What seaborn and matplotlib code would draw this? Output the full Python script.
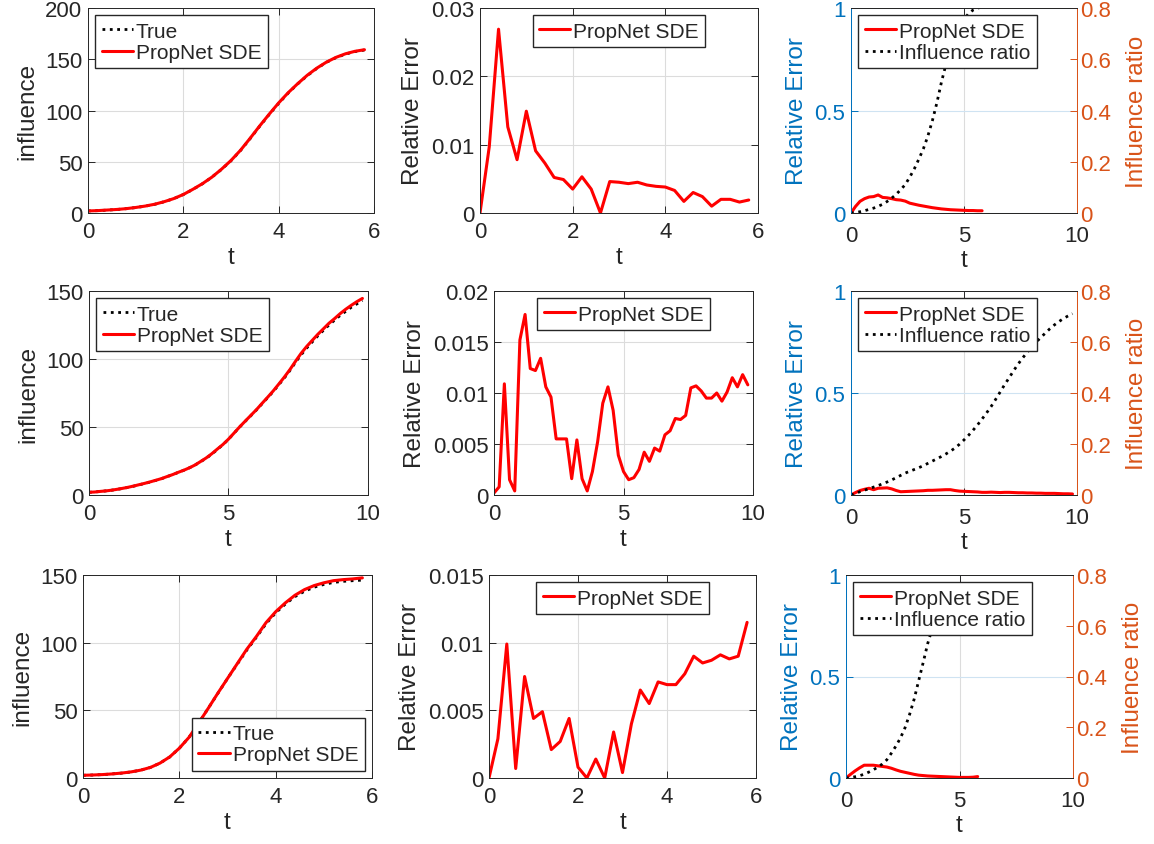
import matplotlib
matplotlib.use("Agg")
import matplotlib.pyplot as plt
from matplotlib.ticker import FuncFormatter
import seaborn as sns

# time grids
t6 = [0.0, 0.2, 0.4, 0.6, 0.8, 1.0, 1.2, 1.4, 1.6, 1.8, 2.0, 2.2, 2.4, 2.6, 2.8,
      3.0, 3.2, 3.4, 3.6, 3.8, 4.0, 4.2, 4.4, 4.6, 4.8, 5.0, 5.2, 5.4, 5.6, 5.8]
t10 = [0.0, 0.2, 0.4, 0.6, 0.8, 1.0, 1.2, 1.4, 1.6, 1.8, 2.0, 2.2, 2.4, 2.6, 2.8,
       3.0, 3.2, 3.4, 3.6, 3.8, 4.0, 4.2, 4.4, 4.6, 4.8, 5.0, 5.2, 5.4, 5.6, 5.8,
       6.0, 6.2, 6.4, 6.6, 6.8, 7.0, 7.2, 7.4, 7.6, 7.8, 8.0, 8.2, 8.4, 8.6, 8.8,
       9.0, 9.2, 9.4, 9.6, 9.8]

# row 1
infl_true_1 = [2.0, 2.3, 2.8, 3.4, 4.2, 5.3, 6.7, 8.5, 11.0, 14.0, 18.0, 23.0, 28.5, 35.0, 42.5,
               51.0, 61.0, 72.5, 84.5, 96.0, 107.0, 117.0, 126.0, 134.0, 141.0, 147.0, 151.5, 155.0, 157.5, 159.0]
infl_pred_1 = [2.0, 2.32, 2.88, 3.44, 4.23, 5.38, 6.76, 8.56, 11.06, 14.07, 18.06, 23.12, 28.6, 35.0, 42.7,
               51.23, 61.26, 72.83, 84.85, 96.37, 107.41, 117.39, 126.21, 134.4, 141.34, 147.15, 151.8, 155.31, 157.75, 159.3]
err_1 = [0.0, 0.0097, 0.0269, 0.0126, 0.0078, 0.0149, 0.0091, 0.0073, 0.0052, 0.0049, 0.0035, 0.0053, 0.0035, 0.0, 0.0046,
         0.0045, 0.0043, 0.0045, 0.0041, 0.0039, 0.0038, 0.0033, 0.0017, 0.003, 0.0024, 0.001, 0.002, 0.002, 0.0016, 0.0019]
ratio_err_1 = [0.0, 0.032, 0.057, 0.070, 0.078, 0.080, 0.088, 0.076, 0.074, 0.070, 0.065, 0.063, 0.058, 0.048, 0.043,
               0.038, 0.034, 0.030, 0.026, 0.023, 0.020, 0.018, 0.016, 0.015, 0.014, 0.013, 0.012, 0.012, 0.011, 0.011]
ratio_1 = [0.0, 0.002, 0.005, 0.009, 0.014, 0.019, 0.026, 0.034, 0.045, 0.058, 0.073, 0.091, 0.111, 0.140, 0.172,
           0.210, 0.250, 0.300, 0.360, 0.430, 0.510, 0.580, 0.635, 0.680, 0.720, 0.755, 0.778, 0.792, 0.799, 0.805]

# row 2
infl_true_2 = [2.0, 2.2, 2.6, 3.0, 3.5, 4.1, 4.8, 5.6, 6.5, 7.5, 8.5, 9.6, 10.8, 12.0, 13.5,
               15.0, 16.6, 18.2, 20.0, 22.0, 24.5, 27.0, 30.0, 33.5, 37.0, 41.0, 45.5, 50.0, 54.2, 58.3,
               62.5, 67.0, 71.5, 76.0, 81.0, 86.0, 91.5, 97.5, 103.0, 108.0, 112.5, 117.0, 121.0, 125.0, 128.5,
               132.0, 135.0, 138.0, 140.5, 143.0]
infl_pred_2 = [2.0, 2.2, 2.63, 3.0, 3.5, 4.16, 4.88, 5.67, 6.58, 7.6, 8.59, 9.69, 10.86, 12.07, 13.57,
               15.02, 16.69, 18.23, 20.01, 22.05, 24.63, 27.24, 30.32, 33.78, 37.14, 41.09, 45.57, 50.09, 54.34, 58.54,
               62.71, 67.31, 71.81, 76.45, 81.51, 86.65, 92.18, 98.26, 104.08, 109.16, 113.65, 118.11, 122.15, 126.25, 129.68,
               133.33, 136.55, 139.46, 142.16, 144.54]
err_2 = [0.0002, 0.0008, 0.0109, 0.0015, 0.0004, 0.0152, 0.0177, 0.0124, 0.0122, 0.0134, 0.0106, 0.0096, 0.0055, 0.0055, 0.0055,
         0.0016, 0.0054, 0.0016, 0.0004, 0.0023, 0.0052, 0.009, 0.0106, 0.0083, 0.0039, 0.0023, 0.0015, 0.0017, 0.0025, 0.0042,
         0.0033, 0.0046, 0.0043, 0.0059, 0.0063, 0.0075, 0.0074, 0.0078, 0.0105, 0.0107, 0.0102, 0.0095, 0.0095, 0.01, 0.0092,
         0.0101, 0.0115, 0.0106, 0.0118, 0.0108]
ratio_err_2 = [0.0, 0.012, 0.022, 0.028, 0.033, 0.026, 0.033, 0.034, 0.035, 0.030, 0.022, 0.016, 0.017, 0.018, 0.019,
               0.020, 0.021, 0.023, 0.023, 0.024, 0.025, 0.026, 0.026, 0.022, 0.019, 0.018, 0.017, 0.016, 0.015, 0.013,
               0.013, 0.014, 0.013, 0.012, 0.013, 0.013, 0.012, 0.011, 0.011, 0.010, 0.010, 0.009, 0.009, 0.008, 0.008,
               0.008, 0.007, 0.006, 0.006, 0.005]
ratio_2 = [0.0, 0.006, 0.013, 0.019, 0.025, 0.031, 0.037, 0.044, 0.051, 0.059, 0.068, 0.077, 0.086, 0.093, 0.100,
           0.107, 0.115, 0.124, 0.133, 0.142, 0.151, 0.161, 0.172, 0.184, 0.199, 0.216, 0.234, 0.254, 0.275, 0.298,
           0.322, 0.347, 0.375, 0.404, 0.433, 0.460, 0.488, 0.514, 0.538, 0.560, 0.580, 0.600, 0.618, 0.635, 0.652,
           0.667, 0.680, 0.692, 0.702, 0.711]

# row 3
infl_true_3 = [2.0, 2.2, 2.5, 3.0, 3.6, 4.5, 5.8, 7.8, 11.0, 15.5, 22.0, 30.0, 40.5, 51.5, 62.5,
               73.5, 84.0, 94.5, 104.0, 114.0, 122.0, 128.5, 134.0, 138.0, 141.0, 143.0, 144.5, 145.3, 145.8, 146.2]
infl_pred_3 = [2.0, 2.21, 2.52, 3.0, 3.63, 4.52, 5.83, 7.82, 11.03, 15.57, 22.02, 30.0, 40.56, 51.5, 62.71,
               73.53, 84.34, 95.11, 104.57, 114.81, 122.84, 129.39, 135.03, 139.24, 142.2, 144.24, 145.81, 146.58, 147.11, 147.88]
err_3 = [0.0, 0.0029, 0.0099, 0.0007, 0.0075, 0.0044, 0.0049, 0.0021, 0.0027, 0.0044, 0.0008, 0.0, 0.0014, 0.0, 0.0034,
         0.0004, 0.004, 0.0065, 0.0055, 0.0071, 0.0069, 0.0069, 0.0077, 0.009, 0.0085, 0.0087, 0.0091, 0.0088, 0.009, 0.0115]
ratio_err_3 = [0.0, 0.018, 0.035, 0.050, 0.063, 0.063, 0.063, 0.060, 0.057, 0.054, 0.048, 0.040, 0.033, 0.028, 0.023,
               0.018, 0.014, 0.012, 0.010, 0.009, 0.008, 0.007, 0.006, 0.005, 0.004, 0.003, 0.003, 0.003, 0.004, 0.007]
ratio_3 = [0.0, 0.002, 0.005, 0.009, 0.015, 0.023, 0.032, 0.043, 0.055, 0.072, 0.098, 0.126, 0.158, 0.198, 0.250,
           0.310, 0.383, 0.455, 0.530, 0.590, 0.635, 0.668, 0.692, 0.708, 0.718, 0.725, 0.729, 0.732, 0.734, 0.735]

rows = [
    dict(t=t6, true=infl_true_1, pred=infl_pred_1, err=err_1, rerr=ratio_err_1, ratio=ratio_1,
         xmax=6, xticks=[0, 2, 4, 6], imax=200, iticks=[0, 50, 100, 150, 200], iloc="upper left",
         emax=0.03, eticks=[0, 0.01, 0.02, 0.03]),
    dict(t=t10, true=infl_true_2, pred=infl_pred_2, err=err_2, rerr=ratio_err_2, ratio=ratio_2,
         xmax=10, xticks=[0, 5, 10], imax=150, iticks=[0, 50, 100, 150], iloc="upper left",
         emax=0.02, eticks=[0, 0.005, 0.01, 0.015, 0.02]),
    dict(t=t6, true=infl_true_3, pred=infl_pred_3, err=err_3, rerr=ratio_err_3, ratio=ratio_3,
         xmax=6, xticks=[0, 2, 4, 6], imax=150, iticks=[0, 50, 100, 150], iloc="lower right",
         emax=0.015, eticks=[0, 0.005, 0.01, 0.015]),
]

sns.set_theme(style="ticks")
plt.rcParams['font.family'] = ['Liberation Sans', 'DejaVu Sans']
dark = '#262626'
blue = '#0072BD'
orange = '#D95319'
plt.rcParams.update({
    'axes.edgecolor': dark, 'axes.linewidth': 0.7, 'axes.labelcolor': dark,
    'xtick.color': dark, 'ytick.color': dark,
    'xtick.direction': 'in', 'ytick.direction': 'in',
    'xtick.top': True, 'ytick.right': True,
    'xtick.major.size': 5, 'ytick.major.size': 5,
    'xtick.major.width': 0.7, 'ytick.major.width': 0.7,
    'xtick.labelsize': 16, 'ytick.labelsize': 16,
    'axes.labelsize': 17.5, 'legend.fontsize': 15,
    'xtick.major.pad': 6, 'ytick.major.pad': 4,
    'axes.labelpad': 3,
    'axes.axisbelow': True,
})

fmt = FuncFormatter(lambda v, p: f"{v:g}")
W, H = 1154, 845

# pixel boxes (left, right) per row/col and (top, bottom) per row
cols_px = [[(88, 374), (480, 758), (851, 1077)],
           [(89, 368), (494, 753), (851, 1077)],
           [(83, 372), (489, 756), (846, 1073)]]
rows_px = [(9, 214), (292, 496), (576, 779)]

leg_kw = dict(frameon=True, fancybox=False, framealpha=1, edgecolor=dark,
              handlelength=1.5, handletextpad=0.15, labelspacing=0.12,
              borderpad=0.3, borderaxespad=0.35)

fig = plt.figure(figsize=(W / 100, H / 100), dpi=100)

for r, d in enumerate(rows):
    top, bot = rows_px[r]
    axes = []
    for c in range(3):
        l, rr = cols_px[r][c]
        axes.append(fig.add_axes([l / W, 1 - bot / H, (rr - l) / W, (bot - top) / H]))
    a1, a2, a3 = axes

    # column 1: influence
    sns.lineplot(x=d['t'], y=d['true'], ax=a1, color='black', linestyle=':', linewidth=2, label='True')
    sns.lineplot(x=d['t'], y=d['pred'], ax=a1, color='red', linewidth=2.2, label='PropNet SDE')
    a1.set_xlim(0, d['xmax'])
    a1.set_xticks(d['xticks'])
    a1.set_ylim(0, d['imax'])
    a1.set_yticks(d['iticks'])
    a1.set_ylabel('influence', labelpad=5)
    a1.legend(loc=d['iloc'], **leg_kw)

    # column 2: relative error
    sns.lineplot(x=d['t'], y=d['err'], ax=a2, color='red', linewidth=2.2, label='PropNet SDE')
    a2.set_xlim(0, d['xmax'])
    a2.set_xticks(d['xticks'])
    a2.set_ylim(0, d['emax'])
    a2.set_yticks(d['eticks'])
    a2.set_ylabel('Relative Error', labelpad=5)
    a2.legend(loc='upper center', **leg_kw)

    for a in (a1, a2):
        a.grid(True, color='#dcdcdc', linewidth=0.8)
        a.xaxis.set_major_formatter(fmt)
        a.yaxis.set_major_formatter(fmt)
        a.set_xlabel('t')
        for s in a.spines.values():
            s.set_color(dark)

    # column 3: relative error vs influence ratio (two y axes)
    b = a3.twinx()
    sns.lineplot(x=d['t'], y=d['rerr'], ax=a3, color='red', linewidth=2.2, label='PropNet SDE')
    sns.lineplot(x=d['t'], y=d['ratio'], ax=b, color='black', linestyle=':', linewidth=2, label='Influence ratio')
    for a in (a3, b):
        if a.get_legend() is not None:
            a.get_legend().remove()
    a3.set_xlim(0, 10)
    a3.set_xticks([0, 5, 10])
    a3.set_ylim(0, 1)
    a3.set_yticks([0, 0.5, 1])
    b.set_ylim(0, 0.8)
    b.set_yticks([0, 0.2, 0.4, 0.6, 0.8])
    a3.xaxis.set_major_formatter(fmt)
    a3.yaxis.set_major_formatter(fmt)
    b.yaxis.set_major_formatter(fmt)
    a3.grid(True, axis='x', color='#dcdcdc', linewidth=0.8)
    a3.grid(True, axis='y', color='#cfe3f2', linewidth=0.8)
    a3.tick_params(axis='y', colors=blue, left=True, right=False)
    b.tick_params(axis='y', colors=orange, left=False, right=True, pad=2)
    a3.tick_params(axis='x', top=True, bottom=True, pad=9)
    a3.set_xlabel('t', labelpad=2)
    a3.set_ylabel('Relative Error', color=blue, labelpad=5)
    b.set_ylabel('Influence ratio', color=orange, labelpad=11)
    for a in (a3, b):
        a.spines['left'].set_color(blue)
        a.spines['right'].set_color(orange)
        a.spines['top'].set_color(dark)
        a.spines['bottom'].set_color(dark)
    h1 = a3.get_lines()[0]
    h2 = b.get_lines()[0]
    b.legend([h1, h2], ['PropNet SDE', 'Influence ratio'], loc='upper left', **leg_kw)

fig.savefig('out.png', dpi=100)
